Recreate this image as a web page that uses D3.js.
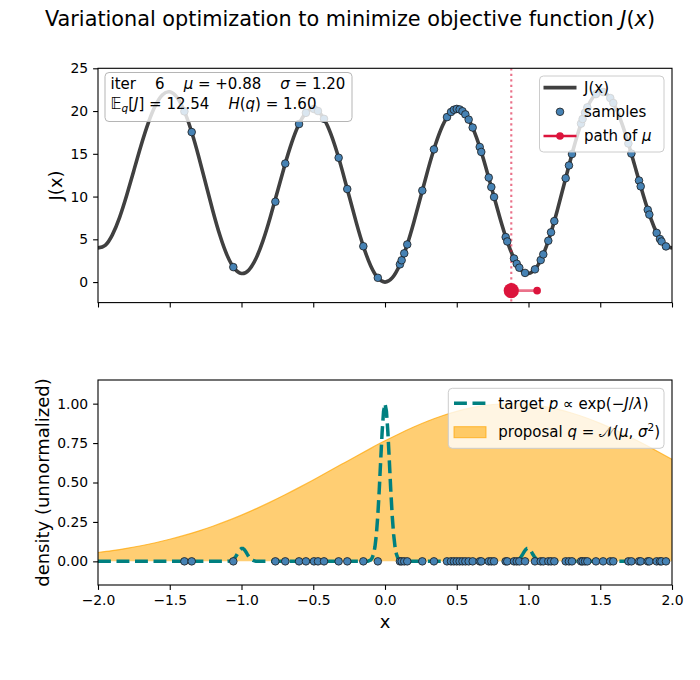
<!DOCTYPE html>
<html><head><meta charset="utf-8">
<script src="https://cdn.jsdelivr.net/npm/d3@7"></script>
<style>body{margin:0;background:#fff} svg text{font-family:"DejaVu Sans",sans-serif}</style>
</head><body><svg id="c" width="700" height="680"></svg>
<script>
// ---------------- data ----------------
const curveX = [-2.00,-1.95,-1.90,-1.85,-1.80,-1.75,-1.70,-1.65,-1.60,-1.55,-1.50,-1.45,-1.40,-1.35,-1.30,-1.25,-1.20,-1.15,-1.10,-1.05,-1.00,-0.95,-0.90,-0.85,-0.80,-0.75,-0.70,-0.65,-0.60,-0.55,-0.50,-0.45,-0.40,-0.35,-0.30,-0.25,-0.20,-0.15,-0.10,-0.05,0.00,0.05,0.10,0.15,0.20,0.25,0.30,0.35,0.40,0.45,0.50,0.55,0.60,0.65,0.70,0.75,0.80,0.85,0.90,0.95,1.00,1.05,1.10,1.15,1.20,1.25,1.30,1.35,1.40,1.45,1.50,1.55,1.60,1.65,1.70,1.75,1.80,1.85,1.90,1.95,2.00];
const curveJ = [4.00,4.29,5.52,7.54,10.15,13.06,15.98,18.60,20.65,21.91,22.25,21.61,20.05,17.70,14.78,11.56,8.35,5.44,3.12,1.59,1.00,1.39,2.72,4.84,7.55,10.56,13.58,16.30,18.45,19.81,20.25,19.71,18.25,16.00,13.18,10.06,6.95,4.14,1.92,0.49,0.00,0.49,1.92,4.14,6.95,10.06,13.18,16.00,18.25,19.71,20.25,19.81,18.45,16.30,13.58,10.56,7.55,4.84,2.72,1.39,1.00,1.59,3.12,5.44,8.35,11.56,14.78,17.70,20.05,21.61,22.25,21.91,20.65,18.60,15.98,13.06,10.15,7.54,5.52,4.29,4.00];

const sampleX = [-1.398,-1.347,-1.057,-0.764,-0.695,-0.599,-0.551,-0.495,-0.467,-0.425,-0.323,-0.263,-0.151,-0.05,0.104,0.116,0.134,0.155,0.260,0.341,0.432,0.46,0.48,0.50,0.52,0.54,0.56,0.583,0.611,0.660,0.671,0.723,0.741,0.760,0.841,0.852,0.899,0.918,0.936,0.976,1.045,1.085,1.103,1.138,1.157,1.180,1.259,1.282,1.303,1.366,1.377,1.394,1.41,1.47,1.52,1.57,1.591,1.696,1.717,1.770,1.782,1.831,1.842,1.893,1.916,1.927,1.958];
const sampleJ = [19.96,17.54,1.75,9.4,13.86,18.48,19.79,20.24,20.0,19.09,14.54,10.88,4.19,0.5,2.07,2.55,3.36,4.40,10.70,15.52,19.29,19.89,20.15,20.25,20.19,19.98,19.61,19.0,18.07,15.80,15.22,12.22,11.11,9.95,5.26,4.75,2.76,2.14,1.68,1.07,1.49,2.57,3.24,4.83,5.82,7.13,12.15,13.64,14.97,18.53,19.07,19.81,20.43,21.98,22.23,21.52,20.94,16.21,15.03,11.88,11.19,8.45,7.89,5.75,5.04,4.75,4.17];

const muPath = [1.06, 0.88];
const muLevel = -1;
const muNow = 0.88;

const targetX = [-2.00,-1.10,-1.08,-1.07,-1.06,-1.05,-1.04,-1.03,-1.02,-1.01,-1.00,-0.99,-0.98,-0.97,-0.96,-0.95,-0.94,-0.93,-0.92,-0.90,-0.12,-0.10,-0.09,-0.08,-0.07,-0.06,-0.05,-0.04,-0.03,-0.02,-0.01,0.00,0.01,0.02,0.03,0.04,0.05,0.06,0.07,0.08,0.09,0.10,0.12,0.90,0.92,0.93,0.94,0.95,0.96,0.97,0.98,0.99,1.00,1.01,1.02,1.03,1.04,1.05,1.06,1.07,1.08,1.10,2.00];
const targetP = [0,0,0.0025,0.0053,0.0104,0.0187,0.0305,0.045,0.061,0.0743,0.082,0.0821,0.0744,0.0611,0.0455,0.0308,0.019,0.0106,0.0055,0.0011,0.001,0.0082,0.020,0.0447,0.0915,0.171,0.293,0.454,0.641,0.820,0.952,1.0,0.952,0.820,0.641,0.454,0.293,0.171,0.0915,0.0447,0.020,0.0082,0.001,0.0011,0.0055,0.0106,0.019,0.0308,0.0455,0.0611,0.0744,0.0821,0.082,0.0743,0.061,0.045,0.0305,0.0187,0.0104,0.0053,0.0025,0,0];

const propX = [-2.0,-1.9,-1.8,-1.7,-1.6,-1.5,-1.4,-1.3,-1.2,-1.1,-1.0,-0.9,-0.8,-0.7,-0.6,-0.5,-0.4,-0.3,-0.2,-0.1,0.0,0.1,0.2,0.3,0.4,0.5,0.6,0.7,0.8,0.9,1.0,1.1,1.2,1.3,1.4,1.5,1.6,1.7,1.8,1.9,2.0];
const propQ = [0.0561,0.0683,0.0826,0.0991,0.1181,0.1399,0.1645,0.1920,0.2226,0.2563,0.2931,0.3328,0.3753,0.4203,0.4674,0.5162,0.5661,0.6167,0.6670,0.7164,0.7642,0.8096,0.8517,0.8898,0.9231,0.9511,0.9731,0.9888,0.9978,0.9999,0.9950,0.9833,0.9651,0.9406,0.9104,0.8751,0.8353,0.7918,0.7453,0.6968,0.6469];

const xTicks = [-2.0,-1.5,-1.0,-0.5,0.0,0.5,1.0,1.5,2.0];
const jTicks = [0,5,10,15,20,25];
const dTicks = [0.00,0.25,0.50,0.75,1.00];

// ---------------- layout ----------------
const svg = d3.select('#c');
const L = 98, R = 672, T1 = 68.3, B1 = 302.6, T2 = 380, B2 = 585;
const x = d3.scaleLinear().domain([-2, 2]).range([L, R]);
const y1 = d3.scaleLinear().domain([-2.4, 25]).range([B1, T1]);
const y2 = d3.scaleLinear().domain([-0.15, 1.15]).range([B2, T2]);
const FS = 13.9;

const defs = svg.append('defs');
defs.append('clipPath').attr('id','cp1').append('rect').attr('x',L).attr('y',T1).attr('width',R-L).attr('height',B1-T1);
defs.append('clipPath').attr('id','cp2').append('rect').attr('x',L).attr('y',T2).attr('width',R-L).attr('height',B2-T2);

function rich(g, px, py, segs, size, anchor) {
  const t = g.append('text').attr('x', px).attr('y', py).attr('font-size', size)
    .attr('text-anchor', anchor || 'start').style('white-space', 'pre').attr('fill', '#000');
  let shift = 0;
  segs.forEach(s => {
    const o = typeof s === 'string' ? {t: s} : s;
    const ts = t.append('tspan').text(o.t);
    if (o.i) ts.attr('font-style', 'italic');
    let target = 0;
    if (o.sub) { target = size * 0.22; ts.attr('font-size', size * 0.7); }
    if (o.sup) { target = -size * 0.38; ts.attr('font-size', size * 0.7); }
    if (target !== shift) { ts.attr('dy', target - shift); shift = target; }
  });
  return t;
}

// title
rich(svg, 350, 26, ['Variational optimization to minimize objective function ', {t:'J', i:1}, '(', {t:'x', i:1}, ')'], 20.8, 'middle');

// ---------------- top panel ----------------
const g1 = svg.append('g');
const c1 = g1.append('g').attr('clip-path', 'url(#cp1)');
const pts = curveX.map((v, i) => [v, curveJ[i]]);
c1.append('path').datum(pts)
  .attr('d', d3.line().x(d => x(d[0])).y(d => y1(d[1])).curve(d3.curveNatural))
  .attr('fill', 'none').attr('stroke', '#404040').attr('stroke-width', 3.6).attr('stroke-linejoin','round');

c1.append('line').attr('x1', x(muNow)).attr('x2', x(muNow)).attr('y1', T1).attr('y2', B1)
  .attr('stroke', 'crimson').attr('stroke-opacity', 0.6).attr('stroke-width', 2.1).attr('stroke-dasharray', '2.1 3.4');

c1.selectAll('circle.s').data(sampleX).join('circle')
  .attr('cx', d => x(d)).attr('cy', (d, i) => y1(sampleJ[i])).attr('r', 3.8)
  .attr('fill', 'steelblue').attr('stroke', '#1a1a1a').attr('stroke-width', 0.8);

c1.append('path').datum(muPath)
  .attr('d', d3.line().x(d => x(d)).y(() => y1(muLevel)))
  .attr('fill', 'none').attr('stroke', 'crimson').attr('stroke-opacity', 0.6).attr('stroke-width', 2.6);
c1.append('circle').attr('cx', x(muPath[0])).attr('cy', y1(muLevel)).attr('r', 3.8).attr('fill', 'crimson');
c1.append('circle').attr('cx', x(muNow)).attr('cy', y1(muLevel)).attr('r', 7.6).attr('fill', 'crimson');

// axes top
const ax1x = g1.append('g').attr('transform', `translate(0,${B1})`)
  .call(d3.axisBottom(x).tickValues(xTicks).tickSize(4.9).tickFormat(''));
const ax1y = g1.append('g').attr('transform', `translate(${L},0)`)
  .call(d3.axisLeft(y1).tickValues(jTicks).tickSize(4.9).tickPadding(4.9).tickFormat(d3.format('d')));

// text box
const tb = g1.append('g');
tb.append('rect').attr('x', 105).attr('y', 72.5).attr('width', 247).attr('height', 49).attr('rx', 4)
  .attr('fill', '#fff').attr('fill-opacity', 0.8).attr('stroke', '#b5b5b5').attr('stroke-width', 1);
rich(tb, 110.5, 88.8, ['iter    6    ', {t:'μ', i:1}, ' = +0.88    ', {t:'σ', i:1}, ' = 1.20'], 15);
rich(tb, 110.5, 108.8, ['𝔼', {t:'q', i:1, sub:1}, '[', {t:'J', i:1}, '] = 12.54    ', {t:'H', i:1}, '(', {t:'q', i:1}, ') = 1.60'], 15);

// legend top
const lg1 = g1.append('g');
lg1.append('rect').attr('x', 539.5).attr('y', 76).attr('width', 124.5).attr('height', 76).attr('rx', 4)
  .attr('fill', '#fff').attr('fill-opacity', 0.8).attr('stroke', '#cccccc').attr('stroke-width', 1);
lg1.append('line').attr('x1', 543.5).attr('x2', 576.5).attr('y1', 87.6).attr('y2', 87.6).attr('stroke', '#404040').attr('stroke-width', 3.6);
rich(lg1, 584, 92.8, ['J(x)'], 15);
lg1.append('circle').attr('cx', 560).attr('cy', 111.8).attr('r', 3.8).attr('fill', 'steelblue').attr('stroke', '#1a1a1a').attr('stroke-width', 0.8);
rich(lg1, 584, 117, ['samples'], 15);
lg1.append('line').attr('x1', 543.5).attr('x2', 576.5).attr('y1', 136).attr('y2', 136).attr('stroke', 'crimson').attr('stroke-width', 2.6);
lg1.append('circle').attr('cx', 560).attr('cy', 136).attr('r', 3.8).attr('fill', 'crimson');
rich(lg1, 584, 141.2, ['path of ', {t:'μ', i:1}], 15);

// frame
g1.append('rect').attr('x', L).attr('y', T1).attr('width', R-L).attr('height', B1-T1)
  .attr('fill', 'none').attr('stroke', '#000').attr('stroke-width', 1.1);
rich(g1, 0, 0, [{t:'J'}, '(x)'], 18).attr('transform', `translate(62,${(T1+B1)/2}) rotate(-90)`).attr('text-anchor','middle');

// ---------------- bottom panel ----------------
const g2 = svg.append('g');
const c2 = g2.append('g').attr('clip-path', 'url(#cp2)');
const qpts = propX.map((v, i) => [v, propQ[i]]);
c2.append('path').datum(qpts)
  .attr('d', d3.area().x(d => x(d[0])).y0(y2(0)).y1(d => y2(d[1])).curve(d3.curveMonotoneX))
  .attr('fill', 'orange').attr('fill-opacity', 0.55);
c2.append('path').datum(qpts)
  .attr('d', d3.line().x(d => x(d[0])).y(d => y2(d[1])).curve(d3.curveMonotoneX))
  .attr('fill', 'none').attr('stroke', 'orange').attr('stroke-opacity', 0.7).attr('stroke-width', 1.2);
const ppts = targetX.map((v, i) => [v, targetP[i]]);
c2.append('path').datum(ppts)
  .attr('d', d3.line().x(d => x(d[0])).y(d => y2(d[1])))
  .attr('fill', 'none').attr('stroke', 'teal').attr('stroke-width', 3.5).attr('stroke-dasharray', '12.9 5.6');
c2.selectAll('circle.b').data(sampleX).join('circle')
  .attr('cx', d => x(d)).attr('cy', y2(0)).attr('r', 3.8)
  .attr('fill', 'steelblue').attr('stroke', '#1a1a1a').attr('stroke-width', 0.8);

const ax2x = g2.append('g').attr('transform', `translate(0,${B2})`)
  .call(d3.axisBottom(x).tickValues(xTicks).tickSize(4.9).tickPadding(4.9).tickFormat(d3.format('.1f')));
const ax2y = g2.append('g').attr('transform', `translate(${L},0)`)
  .call(d3.axisLeft(y2).tickValues(dTicks).tickSize(4.9).tickPadding(4.9).tickFormat(d3.format('.2f')));

// legend bottom
const lg2 = g2.append('g');
lg2.append('rect').attr('x', 448.3).attr('y', 388.3).attr('width', 215.7).attr('height', 60).attr('rx', 4)
  .attr('fill', '#fff').attr('fill-opacity', 0.8).attr('stroke', '#cccccc').attr('stroke-width', 1);
lg2.append('line').attr('x1', 454).attr('x2', 486).attr('y1', 403.3).attr('y2', 403.3)
  .attr('stroke', 'teal').attr('stroke-width', 3.5).attr('stroke-dasharray', '12.9 5.6');
rich(lg2, 498.3, 408.5, ['target ', {t:'p', i:1}, ' ∝ exp(−', {t:'J', i:1}, '/', {t:'λ', i:1}, ')'], 15);
lg2.append('rect').attr('x', 454).attr('y', 426.7).attr('width', 32).attr('height', 11)
  .attr('fill', 'orange').attr('fill-opacity', 0.55).attr('stroke', 'orange').attr('stroke-opacity', 0.7);
rich(lg2, 498.3, 437, ['proposal ', {t:'q', i:1}, ' = 𝒩(', {t:'μ', i:1}, ', ', {t:'σ', i:1}, {t:'2', sup:1}, ')'], 15);

g2.append('rect').attr('x', L).attr('y', T2).attr('width', R-L).attr('height', B2-T2)
  .attr('fill', 'none').attr('stroke', '#000').attr('stroke-width', 1.1);
rich(g2, 0, 0, ['density (unnormalized)'], 18).attr('transform', `translate(49,${(T2+B2)/2}) rotate(-90)`).attr('text-anchor','middle');
rich(g2, (L+R)/2, 628, ['x'], 18, 'middle');

// axis styling
svg.selectAll('.domain').remove();
svg.selectAll('.tick line').attr('stroke', '#000').attr('stroke-width', 1.1);
svg.selectAll('.tick text').attr('font-size', FS).attr('fill', '#000').attr('font-family', '"DejaVu Sans", sans-serif');
</script></body></html>
